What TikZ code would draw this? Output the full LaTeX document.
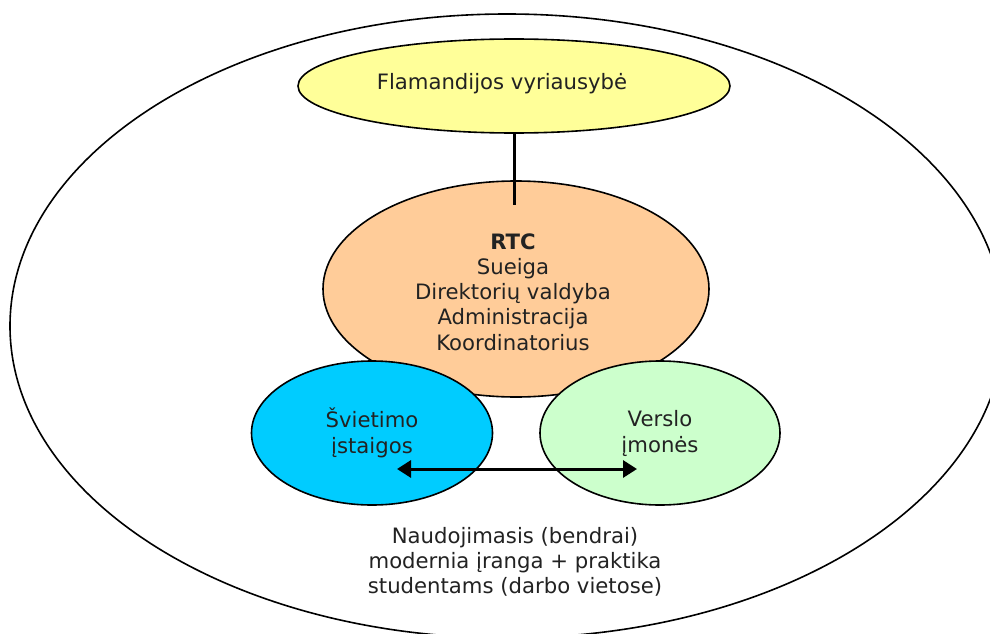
\documentclass[tikz,border=0pt]{standalone}
\usepackage{fontspec}
\setmainfont{DejaVu Sans}
\usetikzlibrary{shapes.geometric,arrows.meta}
\definecolor{govfill}{HTML}{FFFF99}
\definecolor{rtcfill}{HTML}{FFCC99}
\definecolor{edufill}{HTML}{00CCFF}
\definecolor{bizfill}{HTML}{CCFFCC}
\definecolor{txt}{HTML}{222222}
\tikzset{
  blob/.style={ellipse, draw=black, line width=1.6pt, inner sep=0pt, align=center,
    text=txt, font=\fontsize{21.2}{26}\selectfont},
  link/.style={line width=3pt, draw=black},
  twoway/.style={line width=3pt, draw=black, {Triangle[length=14pt,width=17pt]}-{Triangle[length=14pt,width=17pt]}},
  plain/.style={text=txt, align=center, font=\fontsize{21.2}{25.2}\selectfont}
}
\begin{document}
\begin{tikzpicture}[x=1pt,y=-1pt]
\useasboundingbox (0,0) rectangle (990,634);
\fill[white] (0,0) rectangle (990,634);
\node[ellipse, draw=black, line width=1.6pt, minimum width=994pt, minimum height=624pt, inner sep=0pt] (outer) at (507,326) {};
\node[blob, fill=govfill, minimum width=432pt, minimum height=94pt] (gov) at (514,86) {};
\node[plain] (govtext) at (502,84) {Flamandijos vyriausybė};
\node[blob, fill=rtcfill, minimum width=386pt, minimum height=216pt] (rtc) at (516,289) {};
\coordinate (lineend) at (514,205);
\draw[link] (gov.south) -- (lineend);
\node[plain] (rtctext) at (513,292) {\textbf{RTC}\\Sueiga\\Direktorių valdyba\\Administracija\\Koordinatorius};
\node[blob, fill=edufill, minimum width=241pt, minimum height=144pt] (edu) at (372,433) {Švietimo\\įstaigos};
\node[blob, fill=bizfill, minimum width=240pt, minimum height=144pt] (biz) at (660,433) {Verslo\\įmonės};
\coordinate (aleft) at (397,469);
\coordinate (aright) at (637,469);
\draw[twoway] (aleft) -- (aright);
\node[plain] (usage) at (515,562) {Naudojimasis (bendrai)\\modernia įranga + praktika\\studentams (darbo vietose)};
\end{tikzpicture}
\end{document}
